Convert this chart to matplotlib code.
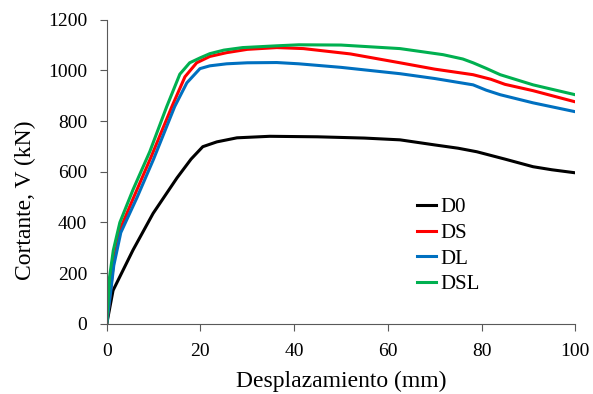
import numpy as np
import matplotlib
matplotlib.use('Agg')
from matplotlib import pyplot as plt

# desplazamiento (mm) / cortante (kN)
x_d0 = [0, 1.35, 5.6, 9.9, 15, 18, 20.5, 23.5, 27.8, 34.8, 45, 55, 62.6, 70, 75, 79, 85, 91, 95, 100]
v_d0 = [0, 132, 291, 436, 576, 650, 699, 718, 734, 740, 738, 733, 726, 706, 693, 679, 650, 620, 608, 596]

x_ds = [0, 0.8, 1.5, 3, 6, 9.5, 13.9, 16.7, 19.2, 22, 25.6, 30, 36.3, 42, 52, 62.6, 70, 78.2, 82, 85, 91, 100]
v_ds = [0, 130, 250, 380, 510, 660, 857, 975, 1030, 1055, 1070, 1083, 1090, 1086, 1065, 1030, 1005, 983, 965, 945, 920, 876]

x_dl = [0, 0.8, 1.5, 3, 6.5, 10, 14.5, 17.1, 19.9, 22, 25.6, 30, 36.3, 41, 50, 62.6, 70, 78.2, 81, 84, 91, 100]
v_dl = [0, 120, 230, 360, 500, 650, 857, 951, 1007, 1018, 1026, 1030, 1031, 1026, 1012, 987, 968, 943, 922, 904, 872, 837]

x_dsl = [0, 0.6, 1.4, 2.8, 5.6, 9.2, 12.8, 15.6, 17.7, 20, 22, 25, 29, 36.3, 41, 50, 62.6, 71.8, 76, 78.2, 81, 84, 91, 100]
v_dsl = [0, 185, 290, 400, 529, 680, 857, 985, 1030, 1050, 1066, 1080, 1090, 1097, 1101, 1100, 1086, 1062, 1045, 1030, 1008, 983, 943, 904]

names = ['D0', 'DS', 'DL', 'DSL']
colors = ['#000000', '#ff0000', '#0070c0', '#00b050']

plt.rcParams['font.family'] = ['Liberation Serif', 'DejaVu Serif']

fig, ax = plt.subplots(figsize=(5.93, 3.94), dpi=100)
for xs, vs, nm, c in zip([x_d0, x_ds, x_dl, x_dsl], [v_d0, v_ds, v_dl, v_dsl], names, colors):
    ax.plot(xs, vs, color=c, lw=2.2, label=nm, solid_joinstyle='round')

ax.set_xlim(0, 100)
ax.set_ylim(0, 1200)
ax.set_xticks(np.arange(0, 101, 20))
ax.set_yticks(np.arange(0, 1201, 200))
ax.spines['top'].set_visible(False)
ax.spines['right'].set_visible(False)
for s in ['left', 'bottom']:
    ax.spines[s].set_color('#595959')
ax.tick_params(direction='out', length=5, color='#595959', labelsize=14)
ax.tick_params(axis='y', pad=9)
ax.tick_params(axis='x', pad=9)
ax.set_xlabel('Desplazamiento (mm)', fontsize=17)
ax.set_ylabel('Cortante, V (kN)', fontsize=17)
ax.xaxis.set_label_coords(0.5, -0.155)
ax.yaxis.set_label_coords(-0.15, 0.407)

ax.legend(loc='upper left', bbox_to_anchor=(0.64, 0.45), frameon=False, fontsize=15,
          handlelength=0.9, handletextpad=0.2, labelspacing=0.3, borderpad=0)

plt.subplots_adjust(left=0.18, bottom=0.178, right=0.97, top=0.95)
plt.savefig('out.png', dpi=100)
